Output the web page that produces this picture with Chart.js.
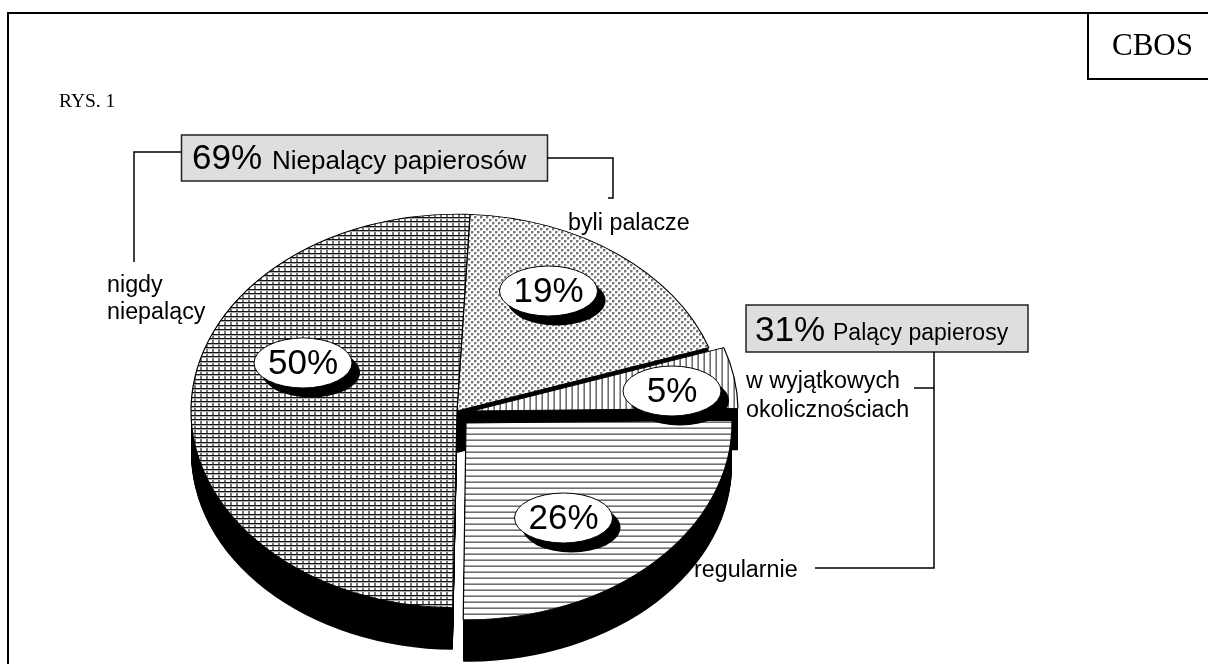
<!DOCTYPE html>
<html><head><meta charset="utf-8">
<style>html,body{margin:0;padding:0;background:#fff}canvas{display:block}</style>
<script src="https://cdn.jsdelivr.net/npm/chart.js@4"></script>
</head><body><canvas id="c" width="1208" height="664"></canvas>
<script>
// ---- data ----
const categories = ['byli palacze','w wyjątkowych okolicznościach','regularnie','nigdy niepalący'];
const values = [19,5,26,50];
const valueLabels = ['19%','5%','26%','50%'];
const groupTitles = ['69%','31%'];
const groupNames = ['Niepalący papierosów','Palący papierosy'];

// ---- geometry and style ----
const SQUASH = 0.74, DEPTH = 42, RADIUS = 266, CX = 457, CY = 411;
const sliceShift = [[0,0],[15,0],[9,12],[0,0]];
const sliceTrim = [[0,0],[0,0],[0,-2.2],[-1.9,0]]; // the source drawing's slices are slightly off true angle
const labelOffset = [[91.5,-120],[215,-20],[106.5,107],[-154,-48]];
const SANS = '"Liberation Sans"', SERIF = '"Liberation Serif"';

function tile(w,h,paint){
  const c=document.createElement('canvas');c.width=w;c.height=h;
  const g=c.getContext('2d');g.fillStyle='#fff';g.fillRect(0,0,w,h);paint(g);
  return g.createPattern(c,'repeat');
}
const patHoriz = tile(6,6,g=>{g.fillStyle='#a8a8a8';g.fillRect(0,1,6,1);g.fillStyle='#707070';g.fillRect(0,2,6,1);});
const patVert = tile(6,6,g=>{g.fillStyle='#a8a8a8';g.fillRect(1,0,1,6);g.fillStyle='#707070';g.fillRect(2,0,1,6);});
const patGrid = tile(6,9,g=>{g.fillStyle='#777';g.fillRect(2,0,2,9);g.fillStyle='#111';g.fillRect(0,1,6,1);g.fillRect(0,5,6,1);g.fillStyle='#aaa';g.fillRect(0,2,6,1);g.fillRect(0,6,6,1);});
const patCross = tile(6,6,g=>{g.fillStyle='#777';g.fillRect(0,0,2,2);g.fillRect(3,3,2,2);
  g.fillStyle='#c4c4c4';g.fillRect(2,0,1,2);g.fillRect(0,2,2,1);g.fillRect(5,3,1,2);g.fillRect(3,5,2,1);});
const patterns=[patCross,patVert,patHoriz,patGrid];

const pie3d = {
  id:'pie3d',
  afterDatasetsUpdate(chart){
    chart.getDatasetMeta(0).data.forEach((el,i)=>{
      el.x += sliceShift[i][0];
      el.y += sliceShift[i][1]/SQUASH;
      el.startAngle += sliceTrim[i][0]*Math.PI/180;
      el.endAngle += sliceTrim[i][1]*Math.PI/180;
    });
  },
  beforeDatasetsDraw(chart){
    const ctx=chart.ctx, meta=chart.getDatasetMeta(0), cy=chart.chartArea.top+chart.chartArea.height/2;
    const inv=new DOMMatrix([1,0,0,1/SQUASH,0,-cy*(1-SQUASH)/SQUASH]);
    patterns.forEach(p=>p.setTransform(inv));
    ctx.save();
    ctx.translate(0,cy);ctx.scale(1,SQUASH);ctx.translate(0,-cy);
    ctx.fillStyle='#000';
    meta.data.forEach(el=>{
      for(let d=0;d<=DEPTH;d++){
        const oy=d/SQUASH;
        ctx.beginPath();ctx.moveTo(el.x,el.y+oy);
        ctx.arc(el.x,el.y+oy,el.outerRadius,el.startAngle,el.endAngle);
        ctx.closePath();ctx.fill();
      }
    });
  },
  afterDatasetsDraw(chart){
    chart.ctx.restore();
  },
  afterDraw(chart){
    const ctx=chart.ctx, meta=chart.getDatasetMeta(0);
    const line=(pts,w)=>{ctx.beginPath();pts.forEach((p,i)=>i?ctx.lineTo(p[0],p[1]):ctx.moveTo(p[0],p[1]));ctx.lineWidth=w||1.5;ctx.strokeStyle='#000';ctx.stroke();};
    const text=(s,x,y,size,fam)=>{ctx.font=size+'px '+(fam||SANS);ctx.fillStyle='#000';ctx.textAlign='left';ctx.textBaseline='alphabetic';ctx.fillText(s,x,y);};
    ctx.save();
    // value ovals
    meta.data.forEach((el,i)=>{
      const x=el.x-sliceShift[i][0]+labelOffset[i][0], y=CY+labelOffset[i][1];
      ctx.fillStyle='#000';ctx.beginPath();ctx.ellipse(x+8,y+9.5,49,25,0,0,Math.PI*2);ctx.fill();
      ctx.fillStyle='#fff';ctx.beginPath();ctx.ellipse(x,y,49,25,0,0,Math.PI*2);ctx.fill();
      ctx.lineWidth=1;ctx.strokeStyle='#000';ctx.stroke();
      ctx.font='35px '+SANS;ctx.fillStyle='#000';ctx.textAlign='center';ctx.textBaseline='middle';
      ctx.fillText(valueLabels[i],x,y+1);
    });
    // frame
    line([[8,664],[8,13],[1208,13]],2);
    line([[1088,13],[1088,79],[1208,79]],2);
    text('CBOS',1112,55,31,SERIF);
    text('RYS. 1',59,107,19.5,SERIF);
    // group boxes
    ctx.fillStyle='#dedede';ctx.strokeStyle='#222';ctx.lineWidth=1.5;
    ctx.fillRect(181.5,135,366,46);ctx.strokeRect(181.5,135,366,46);
    ctx.fillStyle='#dedede';
    ctx.fillRect(746,305,282,47);ctx.strokeRect(746,305,282,47);
    text(groupTitles[0],192,169,35);
    text(groupNames[0],272,169,26);
    text(groupTitles[1],755,341,35);
    text(groupNames[1],833,340,23);
    // connectors
    line([[181,152],[134,152],[134,262]]);
    line([[547,158],[613,158],[613,198],[608,198]]);
    line([[934,352],[934,568],[815,568]]);
    line([[914,388],[934,388]]);
    // category labels
    text('byli palacze',568,230,23.3);
    text('nigdy',107,292,23.3);
    text('niepalący',107,318.5,23.3);
    text('w wyjątkowych',746,388,23.3);
    text('okoliczności'+'ach',746,417,23.3);
    text(categories[2],694,577,23.3);
    ctx.restore();
  }
};

new Chart(document.getElementById('c'),{
  type:'pie',
  data:{labels:categories,datasets:[{data:values,backgroundColor:patterns,borderColor:'#000',borderWidth:1.2,hoverOffset:0}]},
  options:{
    responsive:false,animation:false,radius:RADIUS,rotation:2.8,
    layout:{padding:{left:0,right:1208-2*CX,top:2*CY-664,bottom:0}},
    plugins:{legend:{display:false},tooltip:{enabled:false}}
  },
  plugins:[pie3d]
});
</script></body></html>
